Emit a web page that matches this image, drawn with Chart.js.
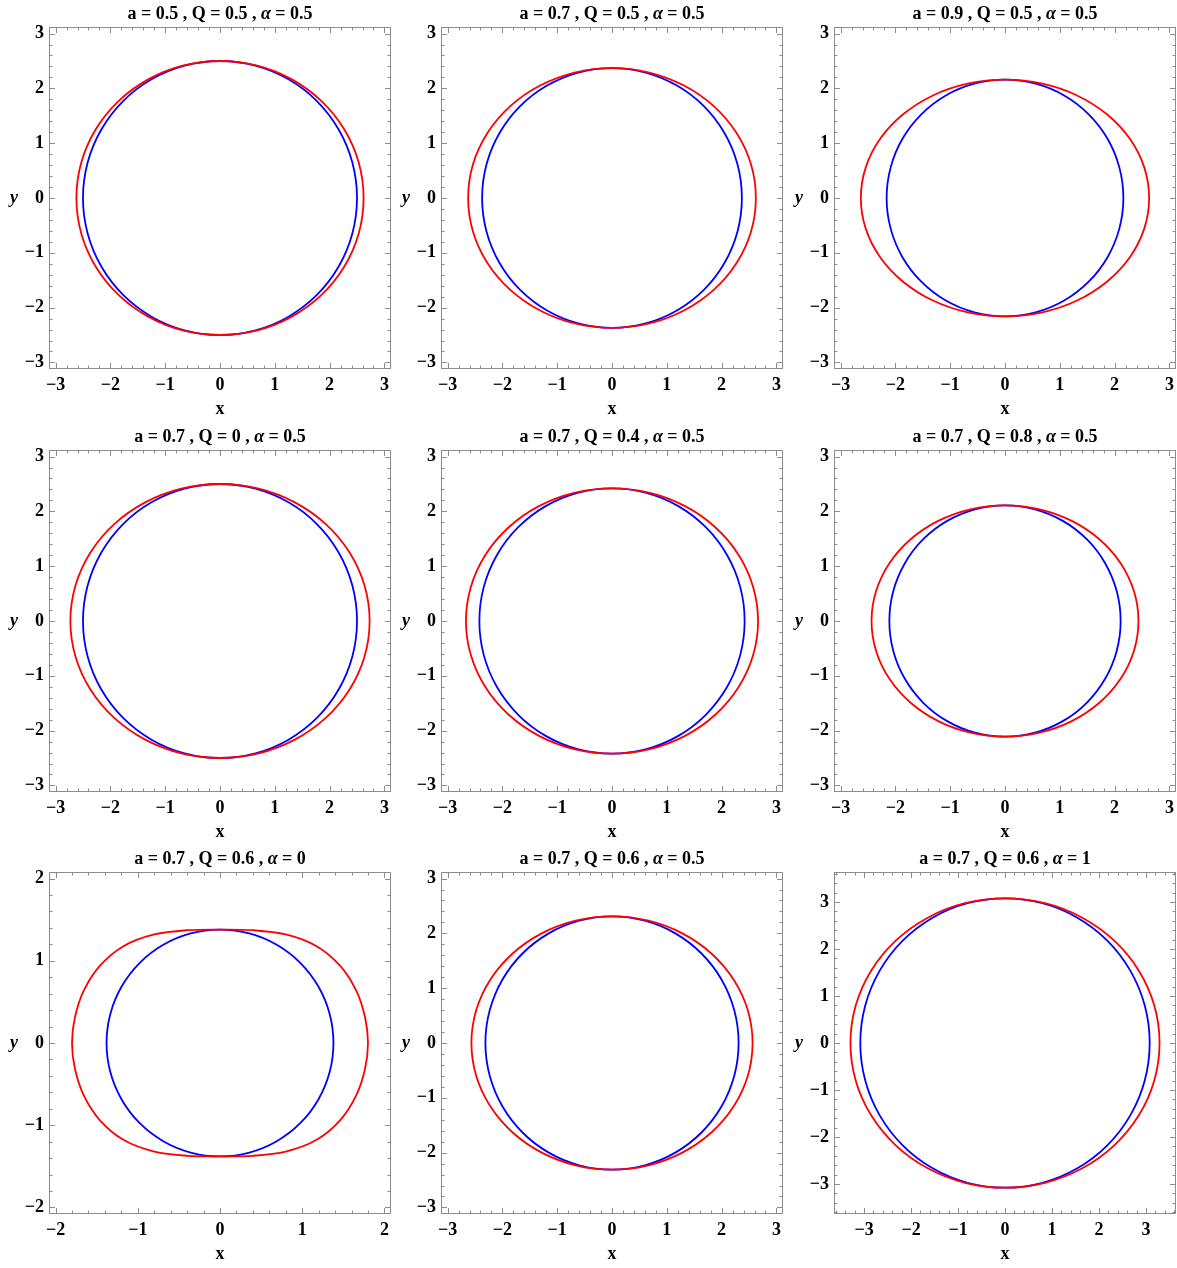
<!DOCTYPE html>
<html>
<head>
<meta charset="utf-8">
<script src="https://cdn.jsdelivr.net/npm/chart.js@4.4.1/dist/chart.umd.min.js"></script>
<style>
  html, body { margin: 0; padding: 0; background: #fff; }
  #wrap { position: relative; width: 1177px; height: 1268px; }
  #wrap canvas { position: absolute; }
</style>
</head>
<body>
<div id="wrap"></div>
<script>
// panel titles and axis limits (row by row)
const titles = [
  'a = 0.5 , Q = 0.5 , α = 0.5', 'a = 0.7 , Q = 0.5 , α = 0.5', 'a = 0.9 , Q = 0.5 , α = 0.5',
  'a = 0.7 , Q = 0 , α = 0.5', 'a = 0.7 , Q = 0.4 , α = 0.5', 'a = 0.7 , Q = 0.8 , α = 0.5',
  'a = 0.7 , Q = 0.6 , α = 0', 'a = 0.7 , Q = 0.6 , α = 0.5', 'a = 0.7 , Q = 0.6 , α = 1'
]
const limits = [3.12, 3.12, 3.12, 3.12, 3.12, 3.12, 2.08, 3.12, 3.64]
const ticks3 = [-3, -2, -1, 0, 1, 2, 3]
const ticks2 = [-2, -1, 0, 1, 2]

// curves: blue = circle, red = wider shadow
const blueX1 = [2.5,2.415,2.165,1.768,1.25,0.647,0,-0.647,-1.25,-1.768,-2.165,-2.415,-2.5,-2.415,-2.165,-1.768,-1.25,-0.647,0,0.647,1.25,1.768,2.165,2.415]
const blueY1 = [0,0.647,1.25,1.768,2.165,2.415,2.5,2.415,2.165,1.768,1.25,0.647,0,-0.647,-1.25,-1.768,-2.165,-2.415,-2.5,-2.415,-2.165,-1.768,-1.25,-0.647]
const redX1 = [2.62,2.531,2.269,1.852,1.31,0.679,0,-0.679,-1.31,-1.852,-2.269,-2.531,-2.62,-2.531,-2.269,-1.852,-1.31,-0.679,0,0.679,1.31,1.852,2.269,2.531]
const redY1 = [0,0.647,1.25,1.768,2.165,2.415,2.5,2.415,2.165,1.768,1.25,0.647,0,-0.647,-1.25,-1.768,-2.165,-2.415,-2.5,-2.415,-2.165,-1.768,-1.25,-0.647]

const blueX2 = [2.37,2.289,2.052,1.676,1.185,0.614,0,-0.614,-1.185,-1.676,-2.052,-2.289,-2.37,-2.289,-2.052,-1.676,-1.185,-0.614,0,0.614,1.185,1.676,2.052,2.289]
const blueY2 = [0,0.614,1.185,1.676,2.052,2.289,2.37,2.289,2.052,1.676,1.185,0.614,0,-0.614,-1.185,-1.676,-2.052,-2.289,-2.37,-2.289,-2.052,-1.676,-1.185,-0.614]
const redX2 = [2.625,2.536,2.273,1.856,1.313,0.68,0,-0.68,-1.313,-1.856,-2.273,-2.536,-2.625,-2.536,-2.273,-1.856,-1.313,-0.68,0,0.68,1.313,1.856,2.273,2.536]
const redY2 = [0,0.614,1.185,1.676,2.052,2.289,2.37,2.289,2.052,1.676,1.185,0.614,0,-0.614,-1.185,-1.676,-2.052,-2.289,-2.37,-2.289,-2.052,-1.676,-1.185,-0.614]

const blueX3 = [2.16,2.086,1.871,1.527,1.08,0.559,0,-0.559,-1.08,-1.527,-1.871,-2.086,-2.16,-2.086,-1.871,-1.527,-1.08,-0.559,0,0.559,1.08,1.527,1.871,2.086]
const blueY3 = [0,0.559,1.08,1.527,1.871,2.086,2.16,2.086,1.871,1.527,1.08,0.559,0,-0.559,-1.08,-1.527,-1.871,-2.086,-2.16,-2.086,-1.871,-1.527,-1.08,-0.559]
const redX3 = [2.63,2.541,2.278,1.859,1.315,0.681,0,-0.681,-1.315,-1.859,-2.278,-2.541,-2.63,-2.541,-2.278,-1.859,-1.315,-0.681,0,0.681,1.315,1.859,2.278,2.541]
const redY3 = [0,0.559,1.08,1.527,1.871,2.086,2.16,2.086,1.871,1.527,1.08,0.559,0,-0.559,-1.08,-1.527,-1.871,-2.086,-2.16,-2.086,-1.871,-1.527,-1.08,-0.559]

const blueX4 = [2.5,2.415,2.165,1.768,1.25,0.647,0,-0.647,-1.25,-1.768,-2.165,-2.415,-2.5,-2.415,-2.165,-1.768,-1.25,-0.647,0,0.647,1.25,1.768,2.165,2.415]
const blueY4 = [0,0.647,1.25,1.768,2.165,2.415,2.5,2.415,2.165,1.768,1.25,0.647,0,-0.647,-1.25,-1.768,-2.165,-2.415,-2.5,-2.415,-2.165,-1.768,-1.25,-0.647]
const redX4 = [2.73,2.637,2.364,1.93,1.365,0.707,0,-0.707,-1.365,-1.93,-2.364,-2.637,-2.73,-2.637,-2.364,-1.93,-1.365,-0.707,0,0.707,1.365,1.93,2.364,2.637]
const redY4 = [0,0.647,1.25,1.768,2.165,2.415,2.5,2.415,2.165,1.768,1.25,0.647,0,-0.647,-1.25,-1.768,-2.165,-2.415,-2.5,-2.415,-2.165,-1.768,-1.25,-0.647]

const blueX5 = [2.42,2.338,2.096,1.711,1.21,0.627,0,-0.627,-1.21,-1.711,-2.096,-2.338,-2.42,-2.338,-2.096,-1.711,-1.21,-0.627,0,0.627,1.21,1.711,2.096,2.338]
const blueY5 = [0,0.627,1.21,1.711,2.096,2.338,2.42,2.338,2.096,1.711,1.21,0.627,0,-0.627,-1.21,-1.711,-2.096,-2.338,-2.42,-2.338,-2.096,-1.711,-1.21,-0.627]
const redX5 = [2.665,2.574,2.308,1.884,1.333,0.69,0,-0.69,-1.333,-1.884,-2.308,-2.574,-2.665,-2.574,-2.308,-1.884,-1.333,-0.69,0,0.69,1.333,1.884,2.308,2.574]
const redY5 = [0,0.627,1.21,1.711,2.096,2.338,2.42,2.338,2.096,1.711,1.21,0.627,0,-0.627,-1.21,-1.711,-2.096,-2.338,-2.42,-2.338,-2.096,-1.711,-1.21,-0.627]

const blueX6 = [2.11,2.038,1.827,1.492,1.055,0.546,0,-0.546,-1.055,-1.492,-1.827,-2.038,-2.11,-2.038,-1.827,-1.492,-1.055,-0.546,0,0.546,1.055,1.492,1.827,2.038]
const blueY6 = [0,0.546,1.055,1.492,1.827,2.038,2.11,2.038,1.827,1.492,1.055,0.546,0,-0.546,-1.055,-1.492,-1.827,-2.038,-2.11,-2.038,-1.827,-1.492,-1.055,-0.546]
const redX6 = [2.435,2.352,2.109,1.722,1.218,0.631,0,-0.631,-1.218,-1.722,-2.109,-2.352,-2.435,-2.352,-2.109,-1.722,-1.218,-0.631,0,0.631,1.218,1.722,2.109,2.352]
const redY6 = [0,0.546,1.055,1.492,1.827,2.038,2.11,2.038,1.827,1.492,1.055,0.546,0,-0.546,-1.055,-1.492,-1.827,-2.038,-2.11,-2.038,-1.827,-1.492,-1.055,-0.546]

const blueX7 = [1.38,1.333,1.195,0.976,0.69,0.357,0,-0.357,-0.69,-0.976,-1.195,-1.333,-1.38,-1.333,-1.195,-0.976,-0.69,-0.357,0,0.357,0.69,0.976,1.195,1.333]
const blueY7 = [0,0.357,0.69,0.976,1.195,1.333,1.38,1.333,1.195,0.976,0.69,0.357,0,-0.357,-0.69,-0.976,-1.195,-1.333,-1.38,-1.333,-1.195,-0.976,-0.69,-0.357]
const redX7 = [1.8,1.765,1.66,1.46,1.17,0.8,0.4,0,-0.4,-0.8,-1.17,-1.46,-1.66,-1.765,-1.8,-1.765,-1.66,-1.46,-1.17,-0.8,-0.4,0,0.4,0.8,1.17,1.46,1.66,1.765]
const redY7 = [0,0.31,0.63,0.94,1.18,1.32,1.372,1.38,1.372,1.32,1.18,0.94,0.63,0.31,0,-0.31,-0.63,-0.94,-1.18,-1.32,-1.372,-1.38,-1.372,-1.32,-1.18,-0.94,-0.63,-0.31]

const blueX8 = [2.31,2.231,2,1.633,1.155,0.598,0,-0.598,-1.155,-1.633,-2,-2.231,-2.31,-2.231,-2,-1.633,-1.155,-0.598,0,0.598,1.155,1.633,2,2.231]
const blueY8 = [0,0.598,1.155,1.633,2,2.231,2.31,2.231,2,1.633,1.155,0.598,0,-0.598,-1.155,-1.633,-2,-2.231,-2.31,-2.231,-2,-1.633,-1.155,-0.598]
const redX8 = [2.565,2.478,2.221,1.813,1.283,0.664,0,-0.664,-1.283,-1.813,-2.221,-2.478,-2.565,-2.478,-2.221,-1.813,-1.283,-0.664,0,0.664,1.283,1.813,2.221,2.478]
const redY8 = [0,0.598,1.155,1.633,2,2.231,2.31,2.231,2,1.633,1.155,0.598,0,-0.598,-1.155,-1.633,-2,-2.231,-2.31,-2.231,-2,-1.633,-1.155,-0.598]

const blueX9 = [3.08,2.975,2.667,2.178,1.54,0.798,0,-0.798,-1.54,-2.178,-2.667,-2.975,-3.08,-2.975,-2.667,-2.178,-1.54,-0.798,0,0.798,1.54,2.178,2.667,2.975]
const blueY9 = [0,0.798,1.54,2.178,2.667,2.975,3.08,2.975,2.667,2.178,1.54,0.798,0,-0.798,-1.54,-2.178,-2.667,-2.975,-3.08,-2.975,-2.667,-2.178,-1.54,-0.798]
const redX9 = [3.29,3.178,2.849,2.326,1.645,0.852,0,-0.852,-1.645,-2.326,-2.849,-3.178,-3.29,-3.178,-2.849,-2.326,-1.645,-0.852,0,0.852,1.645,2.326,2.849,3.178]
const redY9 = [0,0.798,1.54,2.178,2.667,2.975,3.08,2.975,2.667,2.178,1.54,0.798,0,-0.798,-1.54,-2.178,-2.667,-2.975,-3.08,-2.975,-2.667,-2.178,-1.54,-0.798]

const blueX = [blueX1, blueX2, blueX3, blueX4, blueX5, blueX6, blueX7, blueX8, blueX9]
const blueY = [blueY1, blueY2, blueY3, blueY4, blueY5, blueY6, blueY7, blueY8, blueY9]
const redX = [redX1, redX2, redX3, redX4, redX5, redX6, redX7, redX8, redX9]
const redY = [redY1, redY2, redY3, redY4, redY5, redY6, redY7, redY8, redY9]

const FONT = '"Liberation Serif", "Times New Roman", serif'
const FRAME = '#8c8c8c'

function pts(xs, ys) {
  return xs.map((x, k) => ({ x: x, y: ys[k] }))
}

function fmt(v) {
  return v < 0 ? '\u2212' + Math.abs(v) : String(v)
}

// the curves are closed loops: let the line element join last point to first smoothly
const closeLoops = {
  id: 'closeLoops',
  afterDatasetsUpdate(chart) {
    chart.getSortedVisibleDatasetMetas().forEach((m) => {
      const line = m.dataset
      if (!line) return
      line._loop = true
      line._fullLoop = true
      line._pointsUpdated = false
      line._segments = undefined
      line._path = undefined
      line.updateControlPoints(chart.chartArea, 'x')
    })
  }
}

// Mathematica style frame with inward ticks, title and axis labels
const decor = {
  id: 'decor',
  afterDraw(chart, args, opts) {
    const ctx = chart.ctx
    const a = chart.chartArea
    const xs = chart.scales.x, ys = chart.scales.y
    ctx.save()
    ctx.strokeStyle = FRAME
    ctx.lineWidth = 1
    ctx.strokeRect(a.left + 0.5, a.top + 0.5, a.right - a.left - 1, a.bottom - a.top - 1)
    ctx.beginPath()
    for (let k = Math.ceil(xs.min * 5 - 1e-9); k <= Math.floor(xs.max * 5 + 1e-9); k++) {
      const len = k % 5 === 0 ? 6 : 3.5
      const px = Math.round(xs.getPixelForValue(k / 5)) + 0.5
      ctx.moveTo(px, a.bottom); ctx.lineTo(px, a.bottom - len)
      ctx.moveTo(px, a.top); ctx.lineTo(px, a.top + len)
    }
    for (let k = Math.ceil(ys.min * 5 - 1e-9); k <= Math.floor(ys.max * 5 + 1e-9); k++) {
      const len = k % 5 === 0 ? 6 : 3.5
      const py = Math.round(ys.getPixelForValue(k / 5)) + 0.5
      ctx.moveTo(a.left, py); ctx.lineTo(a.left + len, py)
      ctx.moveTo(a.right, py); ctx.lineTo(a.right - len, py)
    }
    ctx.stroke()

    const cx = (a.left + a.right) / 2
    const bold = 'bold 18px ' + FONT
    const ital = 'italic bold 18px ' + FONT
    ctx.fillStyle = '#000'
    ctx.textBaseline = 'alphabetic'
    ctx.textAlign = 'left'
    const parts = opts.title.split('α')
    ctx.font = bold
    const w1 = ctx.measureText(parts[0]).width
    const w3 = ctx.measureText(parts[1]).width
    ctx.font = ital
    const w2 = ctx.measureText('α').width
    let x = cx - (w1 + w2 + w3) / 2
    ctx.font = bold
    ctx.fillText(parts[0], x, 18.5)
    ctx.font = ital
    ctx.fillText('α', x + w1, 18.5)
    ctx.font = bold
    ctx.fillText(parts[1], x + w1 + w2, 18.5)

    ctx.textAlign = 'center'
    ctx.font = bold
    ctx.fillText('x', cx, 414)
    ctx.font = ital
    ctx.fillText('y', 14, 203)
    ctx.restore()
  }
}

const wrap = document.getElementById('wrap')

for (let i = 0; i < 9; i++) {
  const col = i % 3, row = Math.floor(i / 3)
  const canvas = document.createElement('canvas')
  canvas.width = 392
  canvas.height = 423
  canvas.style.left = Math.round(col * 392.33) + 'px'
  canvas.style.top = Math.round(row * 422.67) + 'px'
  wrap.appendChild(canvas)

  const lim = limits[i]
  const tickVals = lim < 2.5 ? ticks2 : ticks3
  const axis = (pos) => ({
    type: 'linear',
    position: pos,
    min: -lim,
    max: lim,
    grid: { display: false, drawTicks: false },
    border: { display: false },
    afterBuildTicks: (scale) => { scale.ticks = tickVals.map((v) => ({ value: v })) },
    ticks: {
      color: '#000',
      font: { family: FONT, size: 18, weight: 'bold' },
      padding: pos === 'left' ? 5 : 6,
      maxRotation: 0,
      callback: (v) => fmt(v)
    },
    afterFit: (scale) => {
      // fixed frame position, no extra room for overhanging labels
      if (pos === 'left') {
        scale.width = 49
        scale.paddingTop = 0
        scale.paddingBottom = 0
      } else {
        scale.height = 54
        scale.paddingLeft = 0
        scale.paddingRight = 0
      }
    }
  })

  new Chart(canvas, {
    type: 'scatter',
    data: {
      datasets: [
        {
          label: 'red',
          data: pts(redX[i], redY[i]),
          showLine: true,
          borderColor: '#ff0000',
          backgroundColor: '#ff0000',
          borderWidth: 1.8,
          pointRadius: 0,
          tension: 0.33
        },
        {
          label: 'blue',
          data: pts(blueX[i], blueY[i]),
          showLine: true,
          borderColor: '#0000ff',
          backgroundColor: '#0000ff',
          borderWidth: 1.8,
          pointRadius: 0,
          tension: 0.33
        }
      ]
    },
    options: {
      responsive: false,
      animation: false,
      devicePixelRatio: 1,
      layout: { padding: { top: 27, right: 1, left: 0, bottom: 0 } },
      scales: { x: axis('bottom'), y: axis('left') },
      plugins: {
        legend: { display: false },
        tooltip: { enabled: false },
        decor: { title: titles[i] }
      }
    },
    plugins: [closeLoops, decor]
  })
}
</script>
</body>
</html>
